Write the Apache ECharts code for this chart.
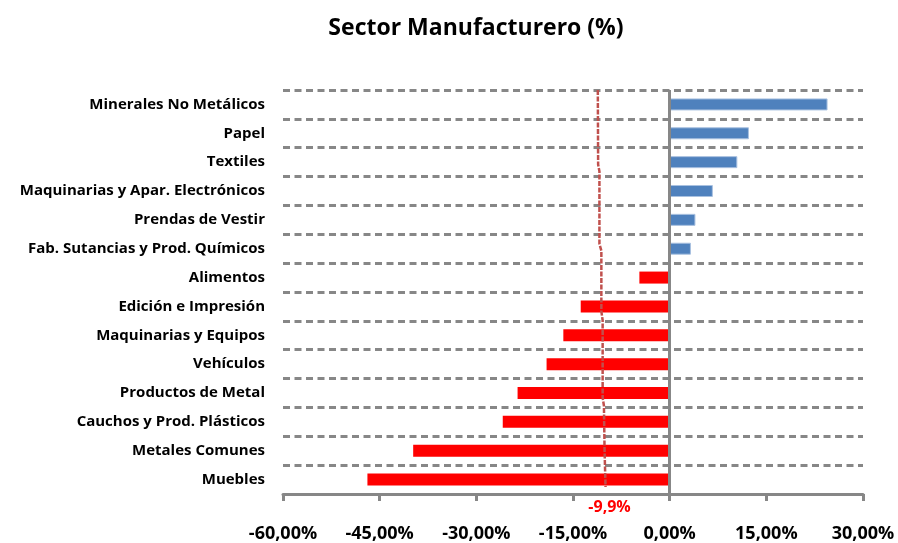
<!DOCTYPE html>
<html>
<head>
<meta charset="utf-8">
<script src="https://cdn.jsdelivr.net/npm/echarts@6/dist/echarts.min.js"></script>
<style>html,body{margin:0;padding:0;background:#fff}#c{width:898px;height:543px}</style>
</head>
<body>
<div id="c"></div>
<script>
const title = "Sector Manufacturero (%)";
const categories = [
  "Minerales No Metálicos", "Papel", "Textiles", "Maquinarias y Apar. Electrónicos",
  "Prendas de Vestir", "Fab. Sutancias y Prod. Químicos", "Alimentos",
  "Edición e Impresión", "Maquinarias y Equipos", "Vehículos", "Productos de Metal",
  "Cauchos y Prod. Plásticos", "Metales Comunes", "Muebles"
];
const values = [24.5, 12.3, 10.5, 6.7, 4.0, 3.3, -4.7, -13.8, -16.5, -19.1, -23.6, -25.9, -39.8, -46.9];
const xTicks = [-60, -45, -30, -15, 0, 15, 30];
// average reference line (x in %, y in category bands counted from bottom)
const avgX = [-11.15, -11.1, -10.9, -10.9, -10.6, -10.6, -10.4, -10.4, -10.2, -10.1, -9.95];
const avgY = [14, 11.42, 11.18, 8.67, 8.43, 6.33, 6.02, 3.34, 3.06, 1.5, 0.24];
const avgLabel = "-9,9%";

const FONT = "'Open Sans', 'DejaVu Sans', sans-serif";
const chart = echarts.init(document.getElementById('c'), null, {renderer: 'canvas'});

const barData = values.map(v => ({
  value: v,
  itemStyle: v >= 0
    ? {color: '#4f81bd', borderColor: '#a9c1e0', borderWidth: 1}
    : {color: '#ff0000'}
}));
const lineData = avgX.map((x, i) => {
  const d = {value: [x, avgY[i]]};
  if (i === avgX.length - 1) {
    d.label = {show: true, position: 'bottom', distance: 12, offset: [4, 0],
      formatter: avgLabel, color: '#ff0000', fontWeight: 'bold', fontSize: 16, fontFamily: FONT};
  }
  return d;
});

chart.setOption({
  animation: false,
  title: {
    text: title, left: 471, top: 12, textAlign: 'center',
    textStyle: {fontFamily: FONT, fontWeight: 'bold', fontSize: 23, color: '#000'}
  },
  grid: {left: 283, right: 35, top: 90, bottom: 45, containLabel: false},
  xAxis: [{
    type: 'value', min: xTicks[0], max: xTicks[xTicks.length - 1], interval: 15,
    position: 'bottom',
    axisLine: {show: true, onZero: false, lineStyle: {color: '#878787', width: 3}},
    axisTick: {show: true, length: 7, lineStyle: {color: '#878787', width: 3}},
    splitLine: {show: false},
    axisLabel: {
      margin: 31, fontFamily: FONT, fontWeight: 'bold', fontSize: 18, color: '#000',
      formatter: v => v.toFixed(2).replace('.', ',') + '%'
    }
  }],
  yAxis: [{
    type: 'category', data: categories, inverse: true,
    axisLine: {show: false}, axisTick: {show: false},
    splitLine: {show: true, lineStyle: {color: '#878787', width: 3, type: [7, 4.5]}},
    axisLabel: {margin: 18, fontFamily: FONT, fontWeight: 'bold', fontSize: 15, color: '#000'}
  }, {
    type: 'value', min: 0, max: 14, show: false
  }],
  series: [{
    type: 'bar', data: barData, barWidth: 12, xAxisIndex: 0, yAxisIndex: 0,
    markLine: {
      silent: true, symbol: 'none', label: {show: false},
      lineStyle: {color: '#878787', width: 3, type: 'solid'},
      data: [{xAxis: 0}]
    }
  }, {
    type: 'line', data: lineData, xAxisIndex: 0, yAxisIndex: 1,
    symbol: 'circle', symbolSize: 1, showSymbol: true, z: 5,
    itemStyle: {color: 'rgba(0,0,0,0)', borderWidth: 0},
    lineStyle: {color: '#c0504d', width: 2.5, type: [5, 1.5]}
  }]
});
</script>
</body>
</html>
